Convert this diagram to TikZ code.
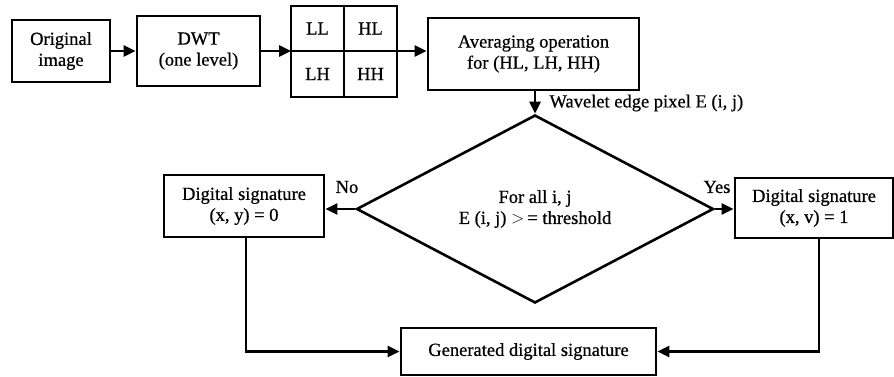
\documentclass[tikz,border=0pt]{standalone}
\usepackage{fontspec}
\setmainfont[FakeBold=0.6]{Liberation Serif}
\usetikzlibrary{shapes.geometric,arrows.meta}
\begin{document}
\begin{tikzpicture}[x=1pt,y=-1pt,
  every node/.style={font=\fontsize{18.5}{21}\selectfont},
  box/.style={draw,line width=2.8pt,inner sep=0pt,align=center},
  cell/.style={draw,line width=2.4pt,inner sep=0pt,minimum width=53pt,minimum height=45.5pt},
  arr/.style={line width=2.6pt,-{Triangle[length=12pt,width=11pt]}},
  ln/.style={line width=2.6pt}]
\useasboundingbox (0,0) rectangle (894,377);
\node[box,minimum width=98pt,minimum height=62pt] (orig) at (61,51) {Original\\image};
\node[box,minimum width=123pt,minimum height=70pt] (dwt) at (198.5,51) {DWT\\(one level)};
\node[cell] (LL) at (317.5,28.5) {LL};
\node[cell] (HL) at (370.5,28.5) {HL};
\node[cell] (LH) at (317.5,74) {LH};
\node[cell] (HH) at (370.5,74) {HH};
\coordinate (gw) at (291,51);
\coordinate (ge) at (397,51);
\node[box,minimum width=211pt,minimum height=72pt] (avg) at (533.5,54) {Averaging operation\\for (HL, LH, HH)};
\node[draw,line width=2.6pt,shape=diamond,aspect=1.9,inner sep=0pt,minimum width=357pt,minimum height=188pt,align=center] (dec) at (535,209) {For all i, j\\E (i, j) $>$\,= threshold};
\node[box,minimum width=160pt,minimum height=62pt] (ds0) at (244,206) {Digital signature\\(x, y) = 0};
\node[box,minimum width=158pt,minimum height=60pt] (ds1) at (814,208) {Digital signature\\(x, v) = 1};
\node[box,minimum width=255pt,minimum height=47pt] (gen) at (528.5,351.5) {Generated digital signature};
\draw[arr] (orig.east) -- (dwt.west);
\draw[arr] (dwt.east) -- (gw);
\draw[arr] (ge) -- (avg.west |- ge);
\draw[arr] (avg.south -| dec.north) -- (dec.north);
\node[anchor=west] (wl) at (546,103) {Wavelet edge pixel E (i, j)};
\draw[arr] (dec.west) -- (ds0.east |- dec.west);
\draw[arr] (dec.east) -- (ds1.west |- dec.east);
\node (no) at (347,187) {No};
\node (yes) at (717,187) {Yes};
\coordinate (ds0b) at (246,237);
\coordinate (ds1b) at (819,238);
\draw[arr] (ds0b) |- (gen.west);
\draw[arr] (ds1b) |- (gen.east);
\end{tikzpicture}
\end{document}
